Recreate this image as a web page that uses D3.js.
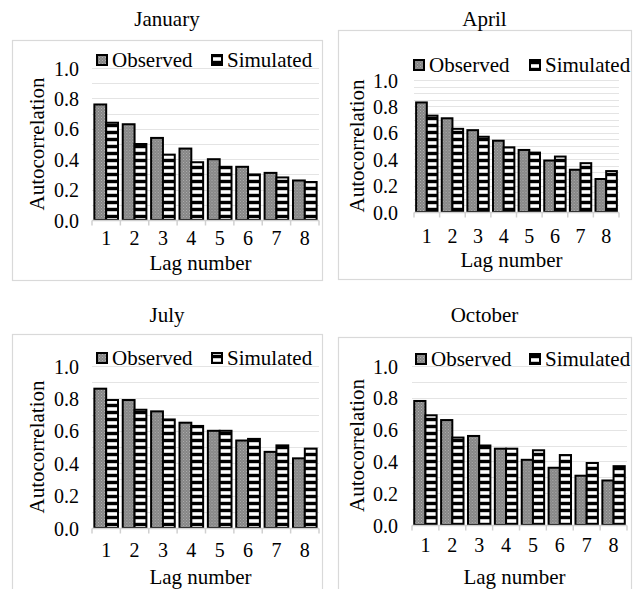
<!DOCTYPE html>
<html>
<head>
<meta charset="utf-8">
<script src="https://cdn.jsdelivr.net/npm/d3@7/dist/d3.min.js"></script>
<style>
  html, body { margin: 0; padding: 0; background: #fff; }
  svg { display: block; }
</style>
</head>
<body>
<svg id="chart" width="634" height="589"></svg>
<script>
// Lag-autocorrelation of observed vs simulated series, one panel per month
const lags = [1, 2, 3, 4, 5, 6, 7, 8];
const seriesNames = ["Observed", "Simulated"];
const yTickValues = [0, 0.2, 0.4, 0.6, 0.8, 1.0];

const janObserved  = [0.76, 0.63, 0.54, 0.47, 0.40, 0.35, 0.31, 0.26];
const janSimulated = [0.64, 0.50, 0.43, 0.38, 0.35, 0.30, 0.28, 0.25];

const aprObserved  = [0.83, 0.71, 0.62, 0.54, 0.47, 0.39, 0.32, 0.25];
const aprSimulated = [0.73, 0.63, 0.57, 0.49, 0.45, 0.42, 0.37, 0.31];

const julObserved  = [0.86, 0.79, 0.72, 0.65, 0.60, 0.54, 0.47, 0.43];
const julSimulated = [0.79, 0.73, 0.67, 0.63, 0.60, 0.55, 0.51, 0.49];

const octObserved  = [0.78, 0.66, 0.56, 0.48, 0.41, 0.36, 0.31, 0.28];
const octSimulated = [0.69, 0.55, 0.50, 0.48, 0.47, 0.44, 0.39, 0.37];

const FONT = "'Liberation Serif', 'Times New Roman', Tinos, 'DejaVu Serif', serif";

const svg = d3.select("#chart").attr("font-family", FONT);
const defs = svg.append("defs");

// Fine gray checker for observed bars
const obsPat = defs.append("pattern")
  .attr("id", "patObserved").attr("patternUnits", "userSpaceOnUse")
  .attr("width", 3).attr("height", 3);
obsPat.append("rect").attr("width", 3).attr("height", 3).attr("fill", "#858585");
obsPat.append("rect").attr("x", 0).attr("y", 0).attr("width", 1).attr("height", 1).attr("fill", "#b0b0b0");
obsPat.append("rect").attr("x", 1.5).attr("y", 1.5).attr("width", 1).attr("height", 1).attr("fill", "#a8a8a8");

// Horizontal black/white stripes for simulated bars
const simPat = defs.append("pattern")
  .attr("id", "patSimulated").attr("patternUnits", "userSpaceOnUse")
  .attr("width", 8).attr("height", 7);
simPat.append("rect").attr("width", 8).attr("height", 7).attr("fill", "#000");
simPat.append("rect").attr("y", 1).attr("width", 8).attr("height", 4).attr("fill", "#bdbdbd");
simPat.append("rect").attr("y", 1.8).attr("width", 8).attr("height", 2.4).attr("fill", "#fff");

const fills = { Observed: "url(#patObserved)", Simulated: "url(#patSimulated)" };

const panels = [
  { title: "January", obs: janObserved, sim: janSimulated,
    box: [12, 40, 310, 240], titleY: 26,
    plotX: [92, 319], plotY: [220, 68], gridStep: 0.1,
    legendY: 60, legendX: [97, 212], yLabelX: 37, tickRight: 79,
    xLabelY: 245, xTitleY: 270 },
  { title: "April", obs: aprObserved, sim: aprSimulated,
    box: [338, 30, 293, 249], titleY: 26,
    plotX: [414, 619], plotY: [212, 80], gridStep: 0.05,
    legendY: 65, legendX: [414, 530], yLabelX: 357, tickRight: 398,
    xLabelY: 243, xTitleY: 267 },
  { title: "July", obs: julObserved, sim: julSimulated,
    box: [12, 334, 310, 300], titleY: 322,
    plotX: [92, 319], plotY: [528, 366], gridStep: 0.1,
    legendY: 358, legendX: [97, 212], yLabelX: 37, tickRight: 79,
    xLabelY: 557, xTitleY: 584 },
  { title: "October", obs: octObserved, sim: octSimulated,
    box: [338, 337, 293, 300], titleY: 322,
    plotX: [412, 627], plotY: [525, 366], gridStep: 0.1,
    legendY: 359, legendX: [416, 530], yLabelX: 357, tickRight: 398,
    xLabelY: 552, xTitleY: 584 }
];

panels.forEach(p => {
  const g = svg.append("g");
  const [bx, by, bw, bh] = p.box;

  // panel frame
  g.append("rect").attr("x", bx + 0.5).attr("y", by + 0.5)
    .attr("width", bw).attr("height", bh)
    .attr("fill", "#fff").attr("stroke", "#d9d9d9").attr("stroke-width", 1.2);

  // title above the frame
  g.append("text").attr("x", bx + bw / 2).attr("y", p.titleY)
    .attr("text-anchor", "middle").attr("font-family", FONT)
    .attr("font-size", 21).text(p.title);

  const y = d3.scaleLinear().domain([0, 1]).range(p.plotY);
  const x = d3.scaleBand().domain(lags).range(p.plotX).padding(0);
  const inner = d3.scaleBand().domain(seriesNames).range([0, x.bandwidth()])
    .paddingInner(0).paddingOuter(0.2);

  // horizontal gridlines
  const gridVals = d3.range(p.gridStep, 1 + 1e-9, p.gridStep);
  g.append("g").selectAll("line").data(gridVals).join("line")
    .attr("x1", p.plotX[0]).attr("x2", p.plotX[1])
    .attr("y1", d => Math.round(y(d)) + 0.5).attr("y2", d => Math.round(y(d)) + 0.5)
    .attr("stroke", "#e4e4e4").attr("stroke-width", 1);

  // y axis labels
  const yAxis = g.append("g").attr("transform", `translate(${p.tickRight},0)`)
    .call(d3.axisLeft(y).tickValues(yTickValues).tickSize(0).tickPadding(0)
      .tickFormat(d3.format(".1f")));
  yAxis.attr("font-family", FONT).attr("font-size", 20);
  yAxis.select(".domain").remove();
  yAxis.selectAll("text").attr("fill", "#000").attr("dy", "0.35em");

  // bars
  const rows = lags.map((lag, i) => ({ lag, values: [
    { name: "Observed", v: p.obs[i] }, { name: "Simulated", v: p.sim[i] }] }));
  const groups = g.append("g").selectAll("g").data(rows).join("g")
    .attr("transform", d => `translate(${x(d.lag)},0)`);
  groups.selectAll("rect").data(d => d.values).join("rect")
    .attr("x", d => inner(d.name))
    .attr("y", d => y(d.v))
    .attr("width", inner.bandwidth())
    .attr("height", d => y(0) - y(d.v))
    .attr("fill", d => fills[d.name])
    .attr("stroke", "#000").attr("stroke-width", 2);

  // category axis: baseline, boundary ticks and labels
  const y0 = Math.round(y(0)) + 0.5;
  g.append("line").attr("x1", p.plotX[0]).attr("x2", p.plotX[1])
    .attr("y1", y0).attr("y2", y0).attr("stroke", "#d0d0d0").attr("stroke-width", 1.5);
  const bounds = lags.map(l => x(l)).concat([p.plotX[1]]);
  g.append("g").selectAll("line").data(bounds).join("line")
    .attr("x1", d => d).attr("x2", d => d)
    .attr("y1", y0).attr("y2", y0 + 5)
    .attr("stroke", "#d0d0d0").attr("stroke-width", 1.5);

  const xAxis = g.append("g").attr("transform", `translate(0,${p.xLabelY})`)
    .call(d3.axisBottom(x).tickSize(0).tickPadding(0));
  xAxis.attr("font-family", FONT).attr("font-size", 20);
  xAxis.select(".domain").remove();
  xAxis.selectAll("text").attr("fill", "#000").attr("dy", "0");

  // axis titles
  g.append("text").attr("x", (p.plotX[0] + p.plotX[1]) / 2 - 5).attr("y", p.xTitleY)
    .attr("text-anchor", "middle").attr("font-family", FONT)
    .attr("font-size", 21).text("Lag number");
  g.append("text")
    .attr("transform", `translate(${p.yLabelX + 7},${(p.plotY[0] + p.plotY[1]) / 2}) rotate(-90)`)
    .attr("text-anchor", "middle").attr("font-family", FONT)
    .attr("font-size", 21).text("Autocorrelation");

  // legend
  seriesNames.forEach((name, i) => {
    const lx = p.legendX[i];
    g.append("rect").attr("x", lx).attr("y", p.legendY - 5)
      .attr("width", 10).attr("height", 10)
      .attr("fill", fills[name]).attr("stroke", "#000").attr("stroke-width", 2);
    g.append("text").attr("x", lx + 15).attr("y", p.legendY + 7)
      .attr("font-family", FONT).attr("font-size", 21).text(name);
  });
});
</script>
</body>
</html>
